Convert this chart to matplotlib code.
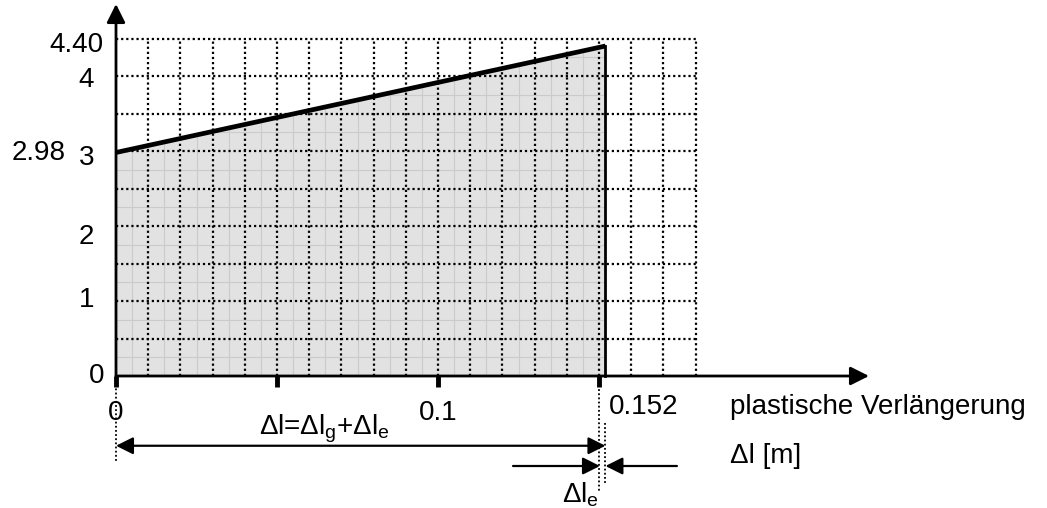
import numpy as np
import matplotlib
matplotlib.use('Agg')
import matplotlib.pyplot as plt
from matplotlib.patches import Polygon

plt.rcParams['font.family'] = ['Liberation Sans', 'DejaVu Sans']
plt.rcParams['mathtext.fontset'] = 'custom'
plt.rcParams['mathtext.rm'] = 'Liberation Sans'
plt.rcParams['mathtext.it'] = 'Liberation Sans'

# data
line_x = [0.0, 0.152]
line_y = [2.98, 4.40]
x_ticks = [0.0, 0.05, 0.1, 0.15]
x_tick_labels = ['0', '', '0.1', '']
y_tick_values = [0, 1, 2, 3, 4]
y_tick_labels = ['0', '1', '2', '3', '4']
grid_x_max = 0.18
grid_y_max = 4.5
grid_dx = 0.01
grid_dy = 0.5

# figure: 1047 x 508 px, axes cover everything, x pixel = 116 + 3220*x, y pixel = 376 - 75*y
fig = plt.figure(figsize=(10.47, 5.08), dpi=100)
ax = fig.add_axes([0, 0, 1, 1])
ax.set_xlim(-116 / 3220, (1047 - 116) / 3220)
ax.set_ylim((376 - 508) / 75, 376 / 75)
ax.axis('off')

# grey area under the line
poly = [(line_x[0], 0), (line_x[0], line_y[0]), (line_x[1], line_y[1]), (line_x[1], 0)]
fill = Polygon(poly, closed=True, facecolor='#e2e2e2', edgecolor='none', zorder=1)
ax.add_patch(fill)

# fine light grid inside the grey area
for xv in np.arange(0.005, line_x[1], 0.01):
    l, = ax.plot([xv, xv], [0, grid_y_max], color='#cbcbcb', lw=0.8, zorder=2)
    l.set_clip_path(fill)
for yv in np.arange(0.25, grid_y_max, 0.5):
    l, = ax.plot([0, line_x[1]], [yv, yv], color='#cbcbcb', lw=0.8, zorder=2)
    l.set_clip_path(fill)

# dotted main grid
dots = (0, (1, 1.3))
for xv in np.arange(grid_dx, grid_x_max + 1e-9, grid_dx):
    ax.plot([xv, xv], [0, grid_y_max], color='black', lw=1.6, ls=dots, zorder=3)
for yv in np.arange(grid_dy, grid_y_max + 1e-9, grid_dy):
    ax.plot([0, grid_x_max], [yv, yv], color='black', lw=1.6, ls=dots, zorder=3)

# line and end line
ax.plot(line_x, line_y, color='black', lw=3.4, solid_capstyle='butt', zorder=5)
ax.plot([line_x[1], line_x[1]], [0, line_y[1]], color='black', lw=2, zorder=5)

# axes with arrows
arrow = dict(arrowstyle='-|>', color='black', lw=2, mutation_scale=28, shrinkA=0, shrinkB=0)
ax.annotate('', xy=((869 - 116) / 3220, 0), xytext=(0, 0), arrowprops=arrow, zorder=6)
ax.annotate('', xy=(0, (376 - 4) / 75), xytext=(0, 0), arrowprops=arrow, zorder=6)

# ticks on the x axis
for xt in x_ticks:
    ax.plot([xt, xt], [0, -0.14], color='black', lw=3.5, solid_capstyle='butt', zorder=6)

fs = 20
# y labels (placed as in the picture)
y_label_pos = [0.0, 1.01, 1.85, 2.91, 3.95]
for lab, yp in zip(y_tick_labels, y_label_pos):
    ax.text(-0.0068 if lab != '0' else -0.0035, yp, lab, ha='right', va='center', fontsize=fs)
ax.text(-0.0040, line_y[1] + 0.02, '%.2f' % line_y[1], ha='right', va='center', fontsize=fs)
ax.text(-0.0157, line_y[0] + 0.0, '%.2f' % line_y[0], ha='right', va='center', fontsize=fs)

# x labels
for xt, lab in zip(x_ticks, x_tick_labels):
    if lab:
        ax.text(xt, -0.50, lab, ha='center', va='center', fontsize=fs)
ax.text(line_x[1] + 0.0012, -0.42, '%.3f' % line_x[1], ha='left', va='center', fontsize=fs)
ax.text(0.1906, -0.42, 'plastische Verlängerung', ha='left', va='center', fontsize=fs)
ax.text(0.1906, -1.07, 'Δl [m]', ha='left', va='center', fontsize=fs)

# dotted helper lines below the axis
ax.plot([0, 0], [0, -1.15], color='black', lw=1.3, ls=dots, zorder=3)
ax.plot([0.15, 0.15], [-0.12, -1.55], color='black', lw=1.3, ls=dots, zorder=3)
ax.plot([line_x[1], line_x[1]], [-0.63, -1.45], color='black', lw=1.3, ls=dots, zorder=3)

# dimension arrows
dim = dict(arrowstyle='<|-|>', color='black', lw=1.6, mutation_scale=26, shrinkA=0, shrinkB=0)
ax.annotate('', xy=(line_x[1], -0.93), xytext=(0, -0.93), arrowprops=dim)
ax.text(0.0646, -0.70, r'Δl=Δl$_\mathregular{g}$+Δl$_\mathregular{e}$',
        ha='center', va='center', fontsize=fs)

one = dict(arrowstyle='-|>', color='black', lw=1.6, mutation_scale=26, shrinkA=0, shrinkB=0)
ax.annotate('', xy=(0.1503, -1.20), xytext=(0.1233, -1.20), arrowprops=one)
ax.annotate('', xy=(line_x[1], -1.20), xytext=(0.1742, -1.20), arrowprops=one)
ax.text(0.1442, -1.58, r'Δl$_\mathregular{e}$', ha='center', va='center', fontsize=fs)

fig.savefig('out.png', dpi=100)
